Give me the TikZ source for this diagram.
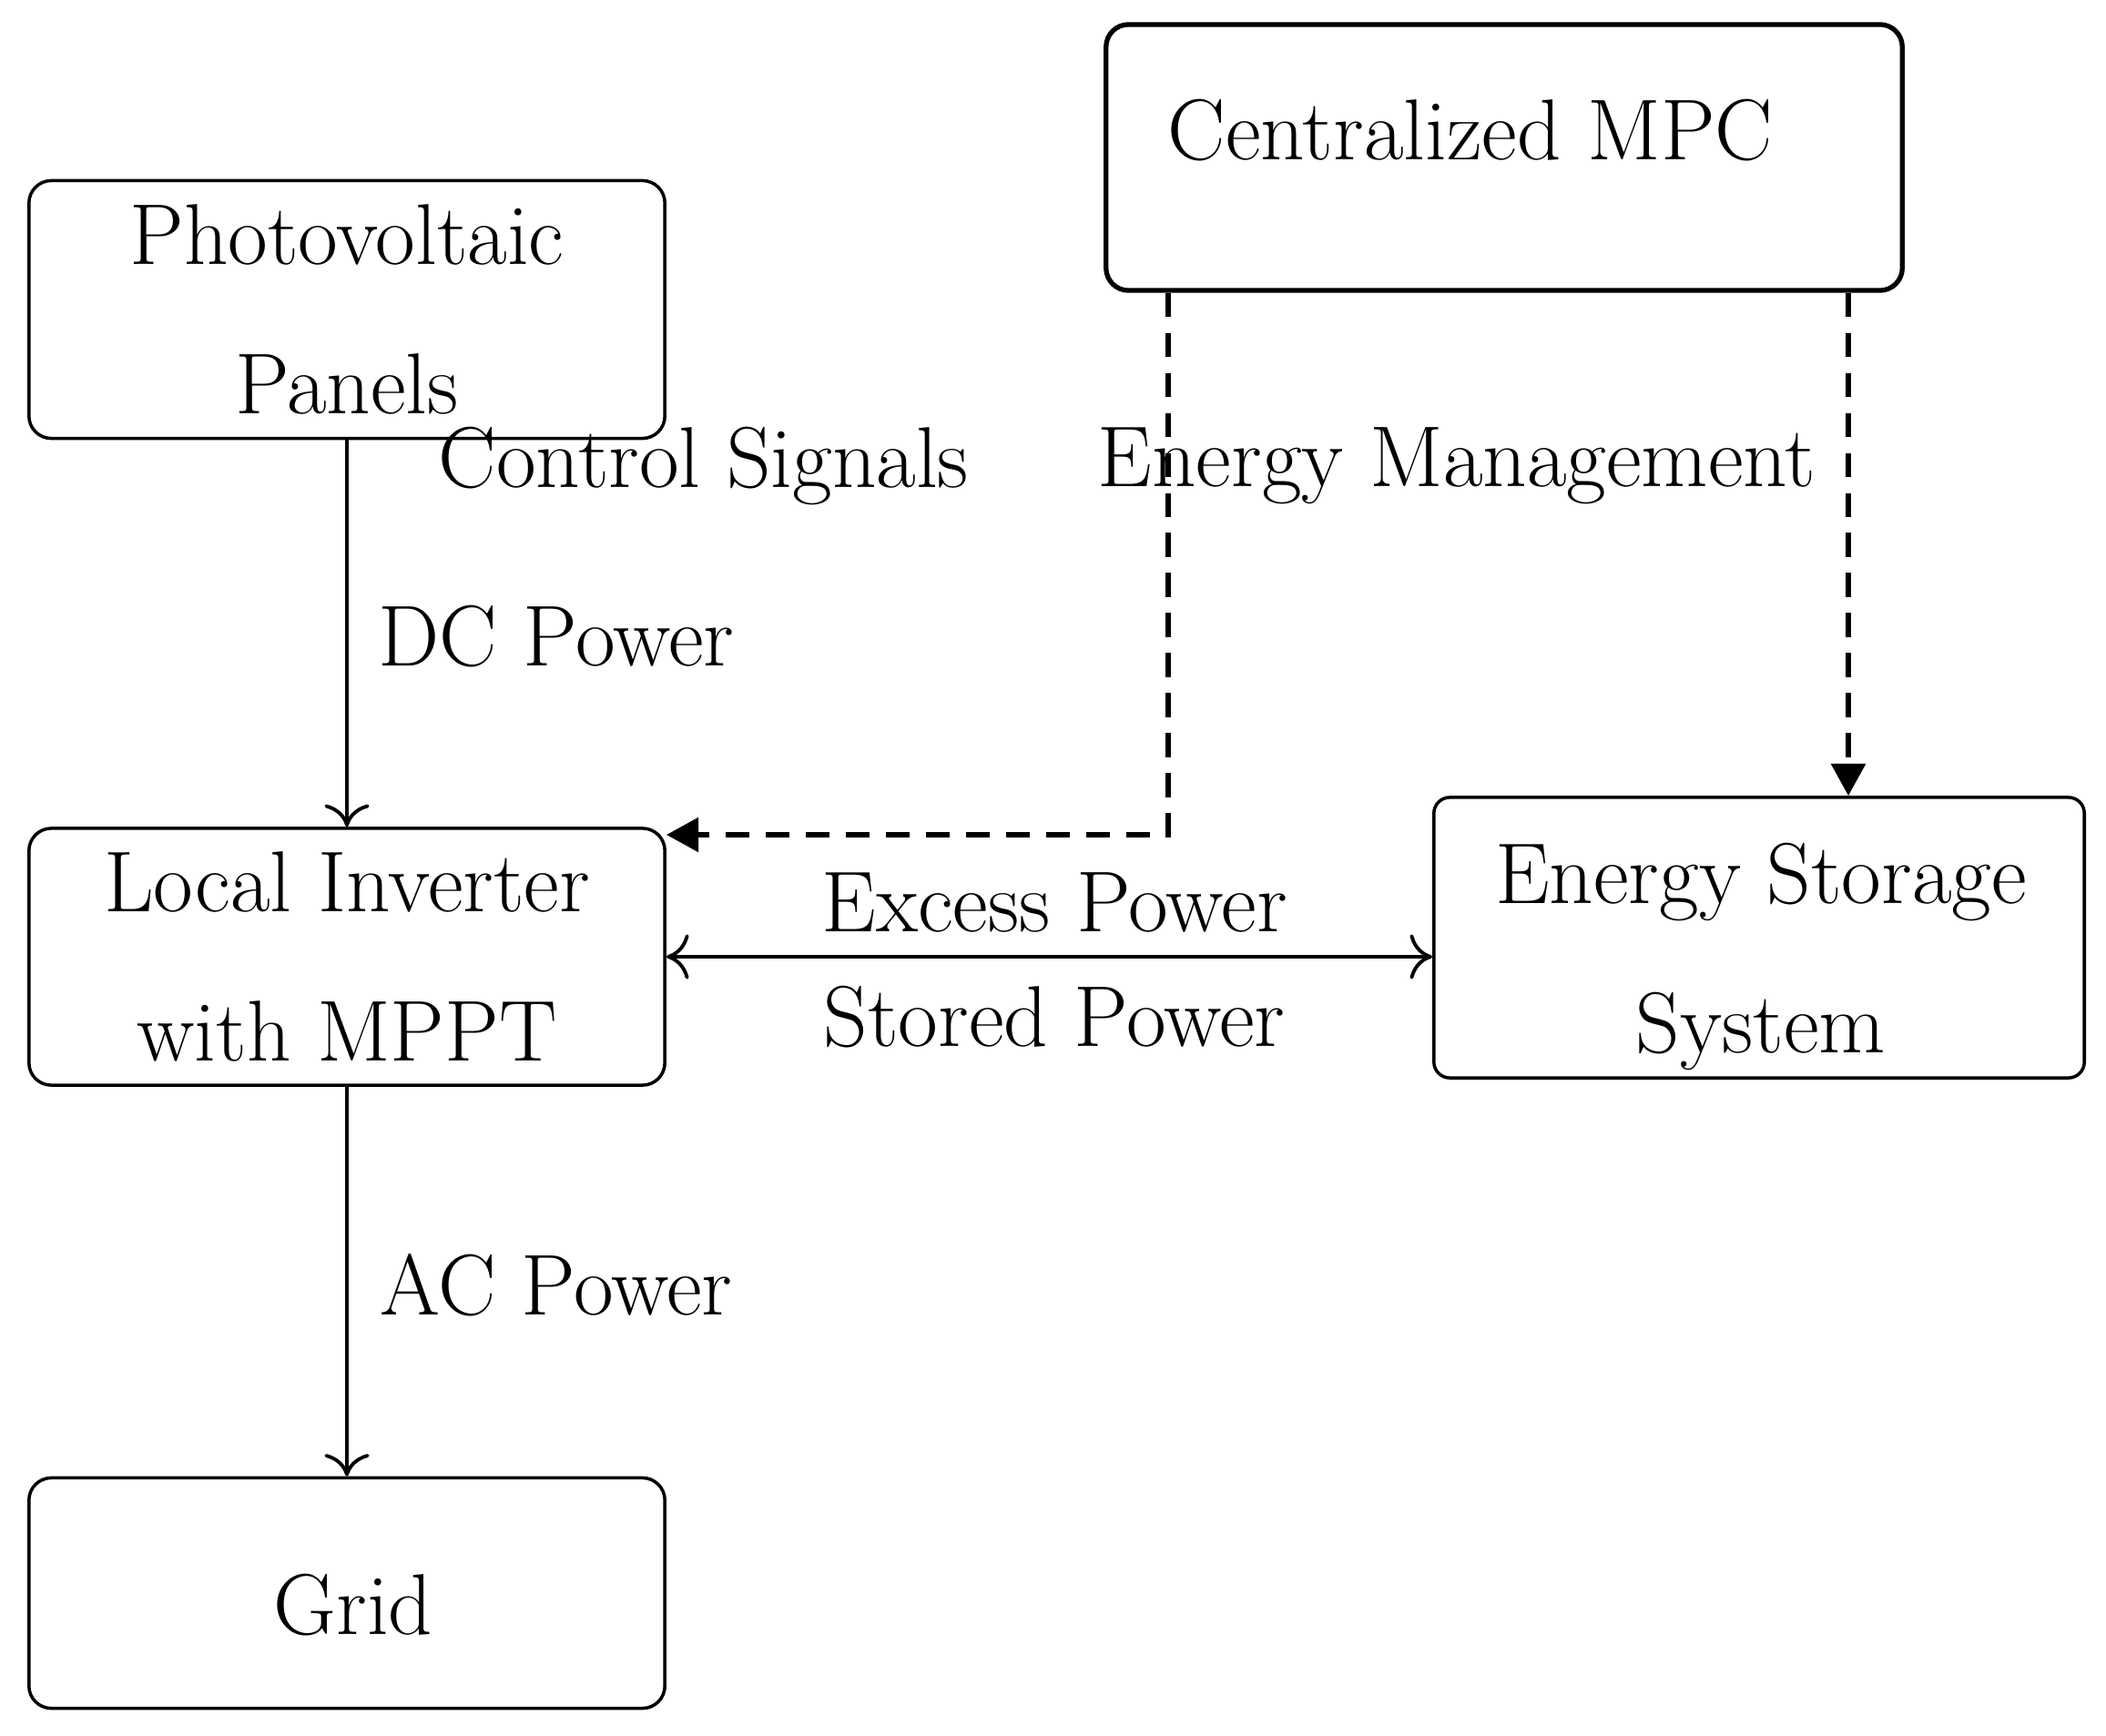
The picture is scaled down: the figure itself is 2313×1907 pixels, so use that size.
\documentclass[tikz,border=0pt]{standalone}
\usetikzlibrary{arrows.meta}
\begin{document}
\begin{tikzpicture}[x=0.01cm,y=-0.01cm,
  box/.style={draw, line width=1pt, rounded corners=7pt, inner sep=0pt, align=center,
    font=\fontsize{27pt}{46.5pt}\selectfont},
  lbl/.style={inner sep=0pt, align=center, font=\fontsize{27pt}{46.5pt}\selectfont},
  solidarrow/.style={line width=1.1pt, -{Computer Modern Rightarrow[length=7pt,width=14pt]}},
  biarrow/.style={line width=1.1pt, {Computer Modern Rightarrow[length=7pt,width=14pt]}-{Computer Modern Rightarrow[length=7pt,width=14pt]}},
  dasharrow/.style={line width=1.7pt, dash pattern=on 7.5pt off 5pt, -{Triangle[length=10pt,width=10.5pt]}}
]
\useasboundingbox (0,0) rectangle (2313,1907);
\node[box, minimum width=6.98cm, minimum height=2.83cm] (pv) at (381,340) {Photovoltaic\\Panels};
\node[box, minimum width=6.98cm, minimum height=2.82cm] (inv) at (381,1051) {Local Inverter\\with MPPT};
\node[box, minimum width=6.98cm, minimum height=2.53cm] (grid) at (381,1750) {};
\node[lbl] (gridt) at (388,1763) {Grid};
\node[box, line width=1.5pt, minimum width=8.74cm, minimum height=2.92cm] (mpc) at (1652,173) {};
\node[lbl] (mpct) at (1615,143) {Centralized MPC};
\node[box, rounded corners=5pt, minimum width=7.14cm, minimum height=3.08cm] (ess) at (1932,1030) {};
\node[lbl] (esst) at (1934,1051) {Energy Storage\\System};

\draw[solidarrow] (pv) -- (inv);
\draw[solidarrow] (inv) -- (grid);
\draw[biarrow] (inv.east) -- (inv.east -| ess.west);
\coordinate (c1) at (1283,917);
\coordinate (c2) at (2030,876);
\draw[dasharrow] (c1 |- mpc.south) -- (c1) -- (c1 -| inv.east);
\draw[dasharrow] (c2 |- mpc.south) -- (c2 |- ess.north);

\node[lbl] (dc) at (611,699) {DC Power};
\node[lbl] (ac) at (611,1412) {AC Power};
\node[lbl] (cs) at (773,512) {Control Signals};
\node[lbl] (em) at (1600,512) {Energy Management};
\node[lbl] (ex) at (1158,991) {Excess Power};
\node[lbl] (st) at (1158,1117) {Stored Power};
\end{tikzpicture}
\end{document}
